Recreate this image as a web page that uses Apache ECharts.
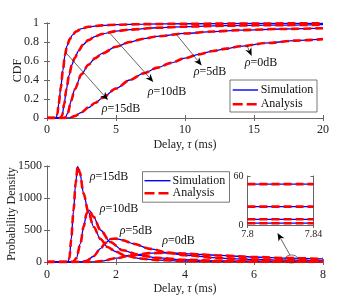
<!DOCTYPE html>
<html><head><meta charset="utf-8">
<script src="https://cdn.jsdelivr.net/npm/echarts@6/dist/echarts.min.js"></script>
<style>html,body{margin:0;padding:0;background:#fff}#c{width:357px;height:303px}</style>
</head><body><div id="c"></div>
<script>
// ---------- DATA ----------
const rhoNames = ['15dB', '10dB', '5dB', '0dB'];

// CDF (top panel), delay in ms
const cdfT15 = [0, 0.65, 0.75, 0.85, 1.0, 1.15, 1.3, 1.45, 1.65, 1.85, 2.1, 2.5, 3, 4, 5, 7, 10, 15, 20];
const cdfF15 = [0, 0, 0.04, 0.15, 0.32, 0.5, 0.66, 0.76, 0.83, 0.875, 0.91, 0.94, 0.96, 0.975, 0.982, 0.988, 0.992, 0.995, 0.997];
const cdfT10 = [0, 1.0, 1.1, 1.25, 1.4, 1.6, 1.8, 2.0, 2.3, 2.6, 3, 3.5, 4, 5, 6, 8, 10, 13, 16, 20];
const cdfF10 = [0, 0, 0.03, 0.15, 0.3, 0.45, 0.56, 0.63, 0.71, 0.77, 0.82, 0.86, 0.885, 0.915, 0.93, 0.95, 0.962, 0.972, 0.977, 0.982];
const cdfT5 = [0, 1.3, 1.5, 1.75, 2.0, 2.5, 3, 3.5, 4, 5, 6, 7, 8, 10, 12, 14, 17, 20];
const cdfF5 = [0, 0, 0.05, 0.18, 0.3, 0.46, 0.56, 0.63, 0.68, 0.75, 0.8, 0.835, 0.86, 0.89, 0.91, 0.925, 0.937, 0.945];
const cdfT0 = [0, 1.6, 2, 2.5, 3, 3.5, 4, 5, 6, 7, 8, 9, 10, 11, 12, 13, 14, 16, 18, 20];
const cdfF0 = [0, 0, 0.02, 0.06, 0.11, 0.16, 0.21, 0.31, 0.4, 0.47, 0.53, 0.58, 0.63, 0.67, 0.705, 0.73, 0.755, 0.79, 0.815, 0.83];

// PDF (bottom panel)
const pdfT15 = [0, 0.6, 0.65, 0.7, 0.77, 0.83, 0.89, 0.95, 1.06, 1.2, 1.35, 1.55, 1.75, 2.0, 2.25, 2.7, 3.2, 4, 5, 6, 7, 8];
const pdfV15 = [0, 0, 60, 350, 810, 1230, 1495, 1400, 1070, 780, 550, 360, 235, 160, 105, 55, 30, 15, 8, 5, 3, 2];
const pdfT10 = [0, 0.75, 0.85, 0.97, 1.06, 1.15, 1.22, 1.35, 1.55, 1.83, 2.2, 2.7, 3.2, 4, 5, 6, 7, 8];
const pdfV10 = [0, 0, 60, 290, 550, 760, 810, 705, 500, 313, 183, 105, 65, 35, 18, 12, 9, 7];
const pdfT5 = [0, 1.0, 1.15, 1.35, 1.55, 1.7, 1.85, 2.0, 2.2, 2.5, 3.0, 3.5, 4, 5, 6, 7, 8];
const pdfV5 = [0, 0, 20, 90, 210, 300, 360, 365, 340, 285, 205, 145, 105, 60, 40, 28, 21];
const pdfT0 = [0, 1.3, 1.6, 2.0, 2.5, 3.0, 3.5, 4, 4.5, 5, 6, 7, 8];
const pdfV0 = [0, 0, 15, 60, 110, 138, 142, 132, 117, 102, 78, 61, 49];

// Inset (zoom of PDF tail)
const insetT = [7.8, 7.84];
const insetV0 = [50, 50];
const insetV5 = [22.5, 22.5];
const insetV10 = [7, 7];
const insetV15 = [2.2, 2.2];

// ---------- CHART ----------
const FONT = 'Liberation Serif';
const BLUE = '#0000ff', RED = '#ff0000';
const frame = '#666';
const pairs = (a, b) => a.map((x, i) => [x, b[i]]);

function axisBase(extra) {
  return Object.assign({
    type: 'value',
    nameMoveOverlap: false,
    axisLine: { show: true, lineStyle: { color: frame, width: 1 } },
    axisTick: { show: true, inside: true, length: 3, lineStyle: { color: frame } },
    splitLine: { show: false },
    axisLabel: { color: '#222', fontFamily: FONT, fontSize: 12 }
  }, extra);
}
const nameRich = { n: { fontFamily: FONT, fontSize: 12, color: '#222' }, i: { fontFamily: FONT, fontSize: 12, fontStyle: 'italic', color: '#222' } };
const plain = v => String(v);

const xAxes = [
  axisBase({ gridIndex: 0, min: 0, max: 20, interval: 5, position: 'bottom',
    axisLabel: { color: '#222', fontFamily: FONT, fontSize: 12, margin: 6, formatter: plain },
    name: '{n|Delay, }{i|τ}{n| (ms)}', nameLocation: 'middle', nameGap: 21, nameTextStyle: { rich: nameRich } }),
  axisBase({ gridIndex: 0, min: 0, max: 20, interval: 5, position: 'top', axisLabel: { show: false } }),
  axisBase({ gridIndex: 1, min: 0, max: 8, interval: 2, position: 'bottom',
    axisLabel: { color: '#222', fontFamily: FONT, fontSize: 12, margin: 7, formatter: plain },
    name: '{n|Delay, }{i|τ}{n| (ms)}', nameLocation: 'middle', nameGap: 21, nameTextStyle: { rich: nameRich } }),
  axisBase({ gridIndex: 1, min: 0, max: 8, interval: 2, position: 'top', axisLabel: { show: false } }),
  axisBase({ gridIndex: 2, min: 7.8, max: 7.84, interval: 0.04, position: 'bottom',
    axisLabel: { color: '#222', fontFamily: FONT, fontSize: 10, margin: 4, formatter: v => (Math.round(v * 100) / 100).toString() } }),
  axisBase({ gridIndex: 2, min: 7.8, max: 7.84, interval: 0.04, position: 'top', axisLabel: { show: false } })
];
const yAxes = [
  axisBase({ gridIndex: 0, min: 0, max: 1, interval: 0.2, position: 'left',
    axisLabel: { color: '#222', fontFamily: FONT, fontSize: 12, margin: 8, formatter: v => String(Math.round(v * 10) / 10) },
    name: 'CDF', nameLocation: 'middle', nameRotate: 90, nameGap: 23,
    nameTextStyle: { fontFamily: FONT, fontSize: 12, color: '#222' } }),
  axisBase({ gridIndex: 0, min: 0, max: 1, interval: 0.2, position: 'right', axisLabel: { show: false } }),
  axisBase({ gridIndex: 1, min: 0, max: 1500, interval: 500, position: 'left',
    axisLabel: { color: '#222', fontFamily: FONT, fontSize: 12, margin: 5, formatter: plain },
    name: 'Probability Density', nameLocation: 'middle', nameRotate: 90, nameGap: 29,
    nameTextStyle: { fontFamily: FONT, fontSize: 12, color: '#222' } }),
  axisBase({ gridIndex: 1, min: 0, max: 1500, interval: 500, position: 'right', axisLabel: { show: false } }),
  axisBase({ gridIndex: 2, min: 0, max: 60, interval: 60, position: 'left',
    axisLabel: { color: '#222', fontFamily: FONT, fontSize: 10, margin: 4, formatter: plain } }),
  axisBase({ gridIndex: 2, min: 0, max: 60, interval: 60, position: 'right', axisLabel: { show: false } })
];

const cdfSets = [[cdfT15, cdfF15], [cdfT10, cdfF10], [cdfT5, cdfF5], [cdfT0, cdfF0]];
const pdfSets = [[pdfT15, pdfV15], [pdfT10, pdfV10], [pdfT5, pdfV5], [pdfT0, pdfV0]];
const insetSets = [insetV15, insetV10, insetV5, insetV0];

function mk(name, data, xi, yi, color, isDash) {
  return {
    name: name, type: 'line', xAxisIndex: xi, yAxisIndex: yi, data: data,
    showSymbol: false, symbol: 'none', smooth: 0.3, smoothMonotone: 'x', animation: false,
    lineStyle: isDash ? { color: color, width: 2.6, type: [8, 4] } : { color: color, width: 1.3 },
    z: isDash ? 3 : 2
  };
}
const series = [];
[false, true].forEach(dash => {
  const col = dash ? RED : BLUE;
  const nm = dash ? 'Analysis' : 'Simulation';
  cdfSets.forEach(s => series.push(mk(nm, pairs(s[0], s[1]), 0, 0, col, dash)));
  pdfSets.forEach(s => series.push(mk(nm, pairs(s[0], s[1]), 2, 2, col, dash)));
  insetSets.forEach(v => series.push(mk(nm, pairs(insetT, v), 4, 4, col, dash)));
});

// ---------- annotations ----------
const g = [];
function arrow(x1, y1, x2, y2) {
  const dx = x2 - x1, dy = y2 - y1, L = Math.hypot(dx, dy), ux = dx / L, uy = dy / L;
  const hl = 8, hw = 3.3, px = -uy, py = ux;
  const bx = x2 - ux * hl, by = y2 - uy * hl;
  g.push({ type: 'line', z: 10, shape: { x1: x1, y1: y1, x2: bx + ux * 2, y2: by + uy * 2 }, style: { stroke: '#222', lineWidth: 0.7 } });
  g.push({ type: 'polygon', z: 10, shape: { points: [[x2, y2], [bx + px * hw, by + py * hw], [x2 - ux * hl * 0.72, y2 - uy * hl * 0.72], [bx - px * hw, by - py * hw]] }, style: { fill: '#000' } });
}
function rho(txt, x, y) {
  g.push({ type: 'text', z: 10, style: { text: '{i|ρ}{n|=' + txt + '}', x: x, y: y, align: 'center', verticalAlign: 'middle',
    rich: { i: { fontFamily: FONT, fontSize: 12, fontStyle: 'italic', fill: '#111' }, n: { fontFamily: FONT, fontSize: 12, fill: '#111' } } } });
}
function legend(x0, y0, w, h, ly1, ly2, lx1, lx2, tx) {
  g.push({ type: 'rect', z: 10, shape: { x: x0, y: y0, width: w, height: h }, style: { fill: '#fff', stroke: '#555', lineWidth: 0.8 } });
  g.push({ type: 'line', z: 11, shape: { x1: lx1, y1: ly1, x2: lx2, y2: ly1 }, style: { stroke: BLUE, lineWidth: 1.4 } });
  g.push({ type: 'line', z: 11, shape: { x1: lx1, y1: ly2, x2: lx2, y2: ly2 }, style: { stroke: RED, lineWidth: 2.6, lineDash: [10, 4] } });
  g.push({ type: 'text', z: 11, style: { text: 'Simulation', x: tx, y: ly1, verticalAlign: 'middle', fontFamily: FONT, fontSize: 12, fill: '#111' } });
  g.push({ type: 'text', z: 11, style: { text: 'Analysis', x: tx, y: ly2, verticalAlign: 'middle', fontFamily: FONT, fontSize: 12, fill: '#111' } });
}
// top panel
arrow(65, 51.7, 108, 100); rho('15dB', 121, 109);
arrow(110, 33.3, 153.3, 82); rho('10dB', 167, 92);
arrow(176, 34, 201.7, 65.5); rho('5dB', 210, 72);
arrow(246.7, 45, 251.7, 56); rho('0dB', 261, 63);
legend(230, 80, 87, 32, 90, 104.3, 232.7, 258, 260.7);
// bottom panel
rho('15dB', 109, 177); rho('10dB', 119, 208.5); rho('5dB', 136, 231); rho('0dB', 178.5, 241);
legend(142.5, 171.7, 87, 30.5, 180.7, 193.3, 144.5, 170.5, 172.5);
g.push({ type: 'ellipse', z: 10, shape: { cx: 291.5, cy: 259, rx: 6.5, ry: 4 }, style: { fill: 'none', stroke: '#333', lineWidth: 0.7 } });
arrow(290, 255, 277.5, 233);

const chart = echarts.init(document.getElementById('c'), null, { renderer: 'canvas' });
chart.setOption({
  animation: false,
  backgroundColor: '#fff',
  grid: [
    { left: 47, top: 23, width: 276, height: 95, containLabel: false, outerBoundsMode: 'none' },
    { left: 47, top: 166, width: 276, height: 96, containLabel: false, outerBoundsMode: 'none' },
    { left: 247.5, top: 176, width: 66, height: 49, containLabel: false, outerBoundsMode: 'none' }
  ],
  xAxis: xAxes, yAxis: yAxes, series: series, graphic: g
});
</script>
</body></html>
